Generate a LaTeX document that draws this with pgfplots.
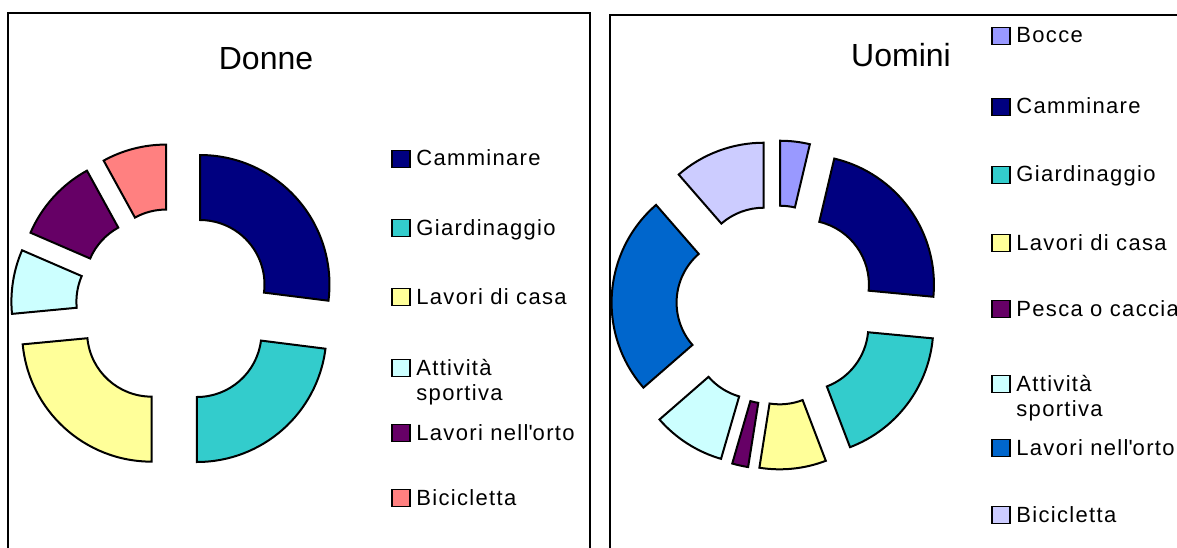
\documentclass[border=0pt]{standalone}
\usepackage{fontspec}
\setmainfont{Liberation Sans}
\newfontfamily\legfam[LetterSpace=6]{Liberation Sans}
\usepackage{pgfplots}
\usepackage{pgfplotstable}
\pgfplotsset{compat=1.18}

\definecolor{cNavy}{HTML}{000080}
\definecolor{cTeal}{HTML}{33CCCC}
\definecolor{cYellow}{HTML}{FFFF99}
\definecolor{cIce}{HTML}{CCFFFF}
\definecolor{cPlum}{HTML}{660066}
\definecolor{cSalmon}{HTML}{FF8080}
\definecolor{cLilac}{HTML}{9999FF}
\definecolor{cBlue}{HTML}{0066CC}
\definecolor{cLavender}{HTML}{CCCCFF}

% shares (percent), clockwise from 12 o'clock
\pgfplotstableread[col sep=comma]{
label,value,fill
Camminare,27,cNavy
Giardinaggio,23,cTeal
Lavori di casa,23.5,cYellow
Attività sportiva,8,cIce
Lavori nell'orto,10.5,cPlum
Bicicletta,8,cSalmon
}\donne

\pgfplotstableread[col sep=comma]{
label,value,fill
Bocce,3.7,cLilac
Camminare,22.8,cNavy
Giardinaggio,17.7,cTeal
Lavori di casa,8.3,cYellow
Pesca o caccia,2,cPlum
Attività sportiva,9.1,cIce
Lavori nell'orto,25,cBlue
Bicicletta,11.4,cLavender
}\uomini

\def\Ro{129.5}
\def\Ri{64.5}

% exploded doughnut: table, centre x, centre y, explode distance
\newcommand\donut[4]{%
  \pgfplotstablegetrowsof{#1}\pgfmathtruncatemacro\nrows{\pgfplotsretval-1}%
  \def\tot{0}%
  \pgfplotsforeachungrouped \i in {0,...,\nrows}{%
    \pgfplotstablegetelem{\i}{value}\of{#1}%
    \pgfmathsetmacro\tot{\tot+\pgfplotsretval}}%
  \def\cum{0}%
  \pgfplotsforeachungrouped \i in {0,...,\nrows}{%
    \pgfplotstablegetelem{\i}{value}\of{#1}\let\sval\pgfplotsretval
    \pgfplotstablegetelem{\i}{fill}\of{#1}\let\scol\pgfplotsretval
    \pgfmathsetmacro\aS{90-(\cum/\tot)*360}%
    \pgfmathsetmacro\aE{\aS-(\sval/\tot)*360}%
    \pgfmathsetmacro\aM{(\aS+\aE)/2}%
    \pgfmathsetmacro\ox{#2+#4*cos(\aM)}%
    \pgfmathsetmacro\oy{#3+#4*sin(\aM)}%
    \pgfmathsetmacro\xA{\ox+\Ro*cos(\aS)}%
    \pgfmathsetmacro\yA{\oy+\Ro*sin(\aS)}%
    \pgfmathsetmacro\xB{\ox+\Ri*cos(\aE)}%
    \pgfmathsetmacro\yB{\oy+\Ri*sin(\aE)}%
    \edef\sdraw{\noexpand\draw[line width=1pt,fill=\scol]
      (axis cs:\xA,\yA) arc[start angle=\aS,end angle=\aE,radius=\Ro]
      -- (axis cs:\xB,\yB) arc[start angle=\aE,end angle=\aS,radius=\Ri] -- cycle;}%
    \sdraw
    \pgfmathsetmacro\cum{\cum+\sval}%
  }%
}

% legend entry: square left x, square centre y (from top), colour, text
\newcommand\legentry[4]{%
  \pgfmathsetmacro\lya{547-#2-8.5}\pgfmathsetmacro\lyb{547-#2+8.5}%
  \pgfmathsetmacro\lxr{#1+18}\pgfmathsetmacro\lxt{#1+24}\pgfmathsetmacro\lyt{547-#2-7}%
  \edef\ldraw{\noexpand\draw[line width=0.8pt,fill=#3] (axis cs:#1,\lya) rectangle (axis cs:\lxr,\lyb);
    \noexpand\node[anchor=base west,inner sep=0pt,font=\noexpand\legfont] at (axis cs:\lxt,\lyt) {\unexpanded{#4}};}%
  \ldraw
}
\newcommand\legline[3]{%
  \pgfmathsetmacro\lyt{547-#2}%
  \edef\ldraw{\noexpand\node[anchor=base west,inner sep=0pt,font=\noexpand\legfont] at (axis cs:#1,\lyt) {\unexpanded{#3}};}%
  \ldraw
}
\newcommand\legfont{\legfam\fontsize{11}{12}\selectfont}

\begin{document}
\begin{tikzpicture}
\begin{axis}[
  name=ax,
  width=588.5pt, height=273.5pt, scale only axis,
  xmin=0, xmax=1177, ymin=0, ymax=547,
  hide axis,
  clip=false
]
% frames
\draw[line width=1.2pt] (axis cs:8,-4) -- (axis cs:8,534) -- (axis cs:590,534) -- (axis cs:590,-4);
\draw[line width=1.2pt] (axis cs:610,-4) -- (axis cs:610,532) -- (axis cs:1185,532);

% titles
\node[anchor=base,inner sep=0pt,font=\fontsize{16}{18}\selectfont] at (axis cs:266,477) {Donne};
\node[anchor=base,inner sep=0pt,font=\fontsize{16}{18}\selectfont] at (axis cs:901,480) {Uomini};

\donut{\donne}{174.5}{240}{34}
\donut{\uomini}{776}{242}{35}

% legend, Donne
\legentry{392}{159}{cNavy}{Camminare}
\legentry{392}{228}{cTeal}{Giardinaggio}
\legentry{392}{297}{cYellow}{Lavori di casa}
\legentry{392}{368}{cIce}{Attività}
\legline{416}{400}{sportiva}
\legentry{392}{433}{cPlum}{Lavori nell\textquotesingle orto}
\legentry{392}{498}{cSalmon}{Bicicletta}

% legend, Uomini
\legentry{992}{36}{cLilac}{Bocce}
\legentry{992}{107}{cNavy}{Camminare}
\legentry{992}{175}{cTeal}{Giardinaggio}
\legentry{992}{243}{cYellow}{Lavori di casa}
\legentry{992}{309}{cPlum}{Pesca o caccia}
\legentry{992}{384}{cIce}{Attività}
\legline{1016}{416}{sportiva}
\legentry{992}{448}{cBlue}{Lavori nell\textquotesingle orto}
\legentry{992}{515}{cLavender}{Bicicletta}
\end{axis}
\pgfresetboundingbox
\path[use as bounding box] (ax.south west) rectangle (ax.north east);
\end{tikzpicture}
\end{document}
